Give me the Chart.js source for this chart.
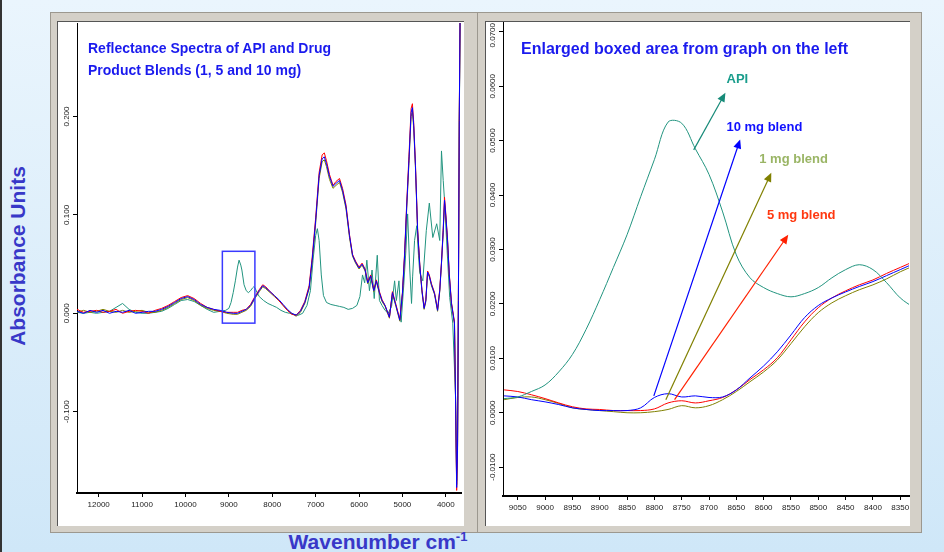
<!DOCTYPE html>
<html>
<head>
<meta charset="utf-8">
<script src="https://cdn.jsdelivr.net/npm/chart.js@4.4.0/dist/chart.umd.min.js"></script>
<style>
  body { margin: 0; width: 944px; height: 552px; overflow: hidden; position: relative;
         background: linear-gradient(#eaf5fd, #cfe7f8); font-family: 'Liberation Sans', Arial, sans-serif; }
  .frame { position: absolute; background: #d4d0c8; border: 1px solid #9c988f; box-sizing: border-box; }
  .white { position: absolute; background: #fff; border-top: 1px solid #555; border-left: 1px solid #555; box-sizing: border-box; }
  canvas { position: absolute; }
  .title { position: absolute; color: #1a1aee; font-weight: bold; font-size: 14px; line-height: 22px; white-space: nowrap; }
  .axis-title { position: absolute; color: #3838c8; font-weight: bold; font-size: 21px; white-space: nowrap; }
</style>
</head>
<body>
<div style="position:absolute;left:0;top:0;width:2px;height:552px;background:#333"></div>
<div class="frame" style="left:50px;top:12px;width:428px;height:521px"></div>
<div class="white" style="left:57px;top:21px;width:407px;height:505px"></div>
<div class="frame" style="left:477px;top:12px;width:445px;height:521px"></div>
<div class="white" style="left:485px;top:21px;width:425px;height:505px"></div>

<canvas id="leftChart" width="406" height="504" style="left:58px;top:22px"></canvas>
<canvas id="rightChart" width="424" height="504" style="left:486px;top:22px"></canvas>

<div class="title" style="left:88px;top:37px">Reflectance Spectra of API and Drug<br>Product Blends (1, 5 and 10 mg)</div>
<div class="title" style="left:521px;top:38px;font-size:16px">Enlarged boxed area from graph on the left</div>

<div class="axis-title" style="left:18px;top:256px;transform:translate(-50%,-50%) rotate(-90deg)">Absorbance Units</div>
<div class="axis-title" style="left:378px;top:541px;transform:translate(-50%,-50%)">Wavenumber cm<sup style="font-size:13px">-1</sup></div>

<script>
// Spectre complet (panneau gauche)
const apiWavenumbers = [12500,12350,12200,12050,11900,11750,11600,11450,11300,11150,
  11000,10850,10700,10550,10400,10250,10100,9950,9800,9650,
  9500,9350,9200,9075,9000,8950,8900,8850,8800,8765,
  8725,8700,8650,8600,8550,8500,8450,8425,8400,8350,
  8300,8200,8100,8000,7900,7800,7700,7600,7500,7400,
  7300,7200,7120,7060,7000,6960,6920,6870,6820,6750,
  6650,6550,6450,6350,6250,6150,6050,5980,5920,5870,
  5820,5760,5700,5650,5580,5530,5470,5400,5330,5250,
  5180,5140,5080,5030,4970,4920,4880,4830,4790,4765,
  4720,4670,4630,4600,4530,4450,4380,4300,4210,4140,
  4100,4060,4030,3970,3910,3840,3775,3750,3730,3710,
  3690,3670];
const apiLeft = [.001,.000,.001,.000,.001,.002,.006,.010,.004,.001,
  .000,.000,.001,.002,.005,.009,.013,.014,.012,.008,
  .004,.001,.002,.003,.005,.011,.021,.033,.047,.054,
  .049,.044,.029,.023,.021,.023,.026,.027,.026,.021,
  .017,.013,.010,.008,.006,.003,.001,.000,-.001,-.002,
  .000,.008,.023,.054,.079,.086,.074,.039,.018,.011,
  .009,.008,.007,.006,.004,.005,.008,.017,.039,.031,
  .054,.023,.044,.015,.059,.013,.008,.003,.000,.007,
  .033,.013,.033,-.009,.028,.064,.101,.044,.010,.037,
  .074,.089,.059,.041,.033,.084,.112,.077,.091,.074,
  .165,.135,.115,.064,.016,-.010,-.085,-.170,-.135,.013,
  .190,.300];

const blendWavenumbers = [12500,12350,12200,12050,11900,11750,11600,11450,11300,11150,11000,10850,10700,10550,
  10400,10250,10100,9950,9800,9650,9500,9350,9200,9050,
  8900,8800,8700,8600,8500,8400,8300,8220,8150,8050,
  7950,7850,7750,7650,7550,7450,7350,7250,7150,7080,
  7000,6920,6850,6800,6750,6680,6600,6530,6450,6380,
  6300,6220,6150,6080,6000,5930,5860,5800,5730,5660,
  5600,5530,5470,5400,5300,5230,5150,5060,5000,4950,
  4900,4850,4800,4770,4740,4700,4650,4600,4550,4500,
  4460,4420,4380,4330,4260,4190,4140,4100,4060,4030,
  4000,3960,3920,3870,3800,3775,3750,3730,3710,3690,
  3670];
const blend10Left = [.002,.000,.003,.001,.003,.000,.002,.001,.003,.000,.001,.002,.002,.004,
  .007,.011,.015,.017,.014,.009,.006,.004,.003,.001,
  .000,.000,.002,.004,.008,.016,.023,.028,.026,.022,
  .018,.014,.009,.004,.000,-.002,.002,.011,.026,.054,
  .094,.140,.157,.159,.152,.139,.129,.132,.135,.125,
  .108,.079,.059,.052,.046,.050,.044,.031,.038,.023,
  .033,.021,.013,.008,-.004,.021,.008,-.007,.020,.059,
  .110,.155,.204,.209,.191,.150,.084,.049,.023,.005,
  .013,.042,.038,.029,.020,.003,.023,.051,.084,.115,
  .099,.074,.039,.010,-.010,-.088,-.177,-.139,.013,.196,
  .307];
const blend5Left = [.004,.001,.002,.003,.001,.002,.004,.000,.002,.003,.002,.000,.003,.005,
  .008,.012,.016,.018,.015,.010,.006,.004,.002,.001,
  .001,.001,.003,.004,.009,.017,.024,.029,.027,.022,
  .018,.013,.008,.003,-.001,-.002,.003,.012,.028,.057,
  .097,.143,.161,.163,.155,.141,.130,.134,.137,.127,
  .110,.080,.060,.053,.047,.051,.045,.032,.039,.024,
  .034,.022,.014,.008,-.004,.022,.009,-.006,.021,.061,
  .113,.159,.208,.213,.194,.152,.086,.050,.024,.006,
  .014,.043,.039,.030,.021,.004,.024,.052,.086,.118,
  .101,.075,.040,.011,-.009,-.090,-.180,-.142,.014,.198,
  .307];
const blend1Left = [.001,.003,.001,.002,.004,.002,.001,.003,.001,.002,.003,.001,.001,.003,
  .006,.010,.014,.016,.013,.008,.005,.003,.002,.000,
  -.001,-.001,.001,.003,.007,.015,.022,.027,.025,.021,
  .017,.013,.008,.003,.000,-.003,.001,.010,.025,.052,
  .091,.137,.154,.156,.149,.136,.127,.130,.133,.123,
  .106,.077,.058,.051,.045,.049,.043,.030,.037,.022,
  .032,.020,.012,.007,-.005,.020,.007,-.008,.019,.057,
  .107,.152,.200,.205,.188,.148,.083,.048,.022,.004,
  .012,.041,.037,.028,.019,.002,.022,.050,.082,.112,
  .097,.072,.038,.009,-.011,-.086,-.174,-.136,.012,.194,
  .307];

// Zone agrandie (panneau droit)
const zoomWavenumbers = [9075,9050,9025,9000,8975,8950,8925,8900,8875,8850,8825,8800,8775,8750,8725,8700,
  8675,8650,8625,8600,8575,8550,8525,8500,8475,8450,8425,8400,8375,8350,8325];
const zoomApi = [.0026,.0029,.0039,.0051,.0075,.0107,.0153,.0208,.0267,.0327,.0397,.0465,.0534,.0532,.0485,.0438,
  .0369,.0290,.0248,.0230,.0219,.0213,.0219,.0230,.0248,.0263,.0272,.0263,.0239,.0211,.0193];
const zoom5mg = [.0042,.0039,.0033,.0026,.0018,.0011,.0007,.0006,.0004,.0004,.0004,.0007,.0018,.0022,.0018,.0022,
  .0028,.0042,.0061,.0079,.0101,.0134,.0167,.0193,.0211,.0224,.0235,.0244,.0256,.0267,.0278];
const zoom10mg = [.0031,.0029,.0024,.0020,.0015,.0009,.0006,.0004,.0004,.0004,.0009,.0028,.0035,.0029,.0031,.0028,
  .0029,.0042,.0064,.0086,.0112,.0143,.0175,.0197,.0211,.0222,.0232,.0241,.0252,.0263,.0274];
const zoom1mg = [.0024,.0028,.0029,.0024,.0017,.0009,.0006,.0004,.0002,.0000,.0000,.0002,.0006,.0013,.0009,.0013,
  .0024,.0039,.0057,.0075,.0097,.0127,.0158,.0184,.0202,.0215,.0226,.0235,.0246,.0259,.0270];

// Graduations
const leftXTicks = [12000, 11000, 10000, 9000, 8000, 7000, 6000, 5000, 4000];
const leftYTicks = [-0.1, 0, 0.1, 0.2];
const rightXTicks = [9050, 9000, 8950, 8900, 8850, 8800, 8750, 8700, 8650, 8600, 8550, 8500, 8450, 8400, 8350];
const rightYTicks = [-0.01, 0, 0.01, 0.02, 0.03, 0.04, 0.05, 0.06, 0.07];

// Annotations (unités des données)
const boxArea = { x1: 9150, x2: 8400, y1: -0.010, y2: 0.063 };
const arrows = [
  { text: 'API', color: '#1a9d8c', line: '#168a78', from: [8728, 0.0483], to: [8670, 0.0588], at: [8668, 0.0612] },
  { text: '10 mg blend', color: '#1010ff', line: '#0000ff', from: [8801, 0.0031], to: [8643, 0.0502], at: [8668, 0.0524] },
  { text: '1 mg blend', color: '#9ab565', line: '#808000', from: [8779, 0.0024], to: [8586, 0.0441], at: [8608, 0.0465] },
  { text: '5 mg blend', color: '#ff3810', line: '#ff2000', from: [8763, 0.0024], to: [8555, 0.0327], at: [8594, 0.0362] }
];

const COL_API = '#22947f', COL_1 = '#808000', COL_5 = '#ff0000', COL_10 = '#0000ff';

function pts(xs, ys) { return xs.map((x, i) => ({ x: x, y: ys[i] })); }

function line(label, data, color, tension) {
  return { label: label, data: data, borderColor: color, borderWidth: 1, pointRadius: 0, tension: tension, fill: false };
}

// étiquettes verticales de l'axe Y
const yLabels = {
  id: 'yLabels',
  afterDraw(chart, args, opts) {
    const ctx = chart.ctx, ys = chart.scales.y;
    ctx.save();
    ctx.fillStyle = '#222';
    ctx.font = '8px "Liberation Sans", Arial, sans-serif';
    ctx.textAlign = 'center';
    ctx.textBaseline = 'middle';
    ys.ticks.forEach(t => {
      const txt = t.value.toFixed(opts.digits);
      const half = ctx.measureText(txt).width / 2;
      // garder le libellé du haut dans le cadre
      const y = Math.max(ys.getPixelForValue(t.value), half + 1);
      ctx.save();
      ctx.translate(ys.right - opts.offset, y);
      ctx.rotate(-Math.PI / 2);
      ctx.fillText(txt, 0, 0);
      ctx.restore();
    });
    ctx.restore();
  }
};

const boxPlugin = {
  id: 'boxPlugin',
  afterDatasetsDraw(chart) {
    const { ctx, scales: { x, y } } = chart;
    const l = x.getPixelForValue(boxArea.x1), r = x.getPixelForValue(boxArea.x2);
    const t = y.getPixelForValue(boxArea.y2), b = y.getPixelForValue(boxArea.y1);
    ctx.save();
    ctx.strokeStyle = '#3a3aff';
    ctx.lineWidth = 1.5;
    ctx.strokeRect(l, t, r - l, b - t);
    ctx.restore();
  }
};

const arrowPlugin = {
  id: 'arrowPlugin',
  afterDatasetsDraw(chart) {
    const { ctx, scales: { x, y } } = chart;
    ctx.save();
    arrows.forEach(a => {
      const x0 = x.getPixelForValue(a.from[0]), y0 = y.getPixelForValue(a.from[1]);
      const x1 = x.getPixelForValue(a.to[0]), y1 = y.getPixelForValue(a.to[1]);
      const ang = Math.atan2(y1 - y0, x1 - x0);
      ctx.strokeStyle = a.line;
      ctx.fillStyle = a.line;
      ctx.lineWidth = 1.2;
      ctx.beginPath();
      ctx.moveTo(x0, y0);
      ctx.lineTo(x1 - 6 * Math.cos(ang), y1 - 6 * Math.sin(ang));
      ctx.stroke();
      ctx.beginPath();
      ctx.moveTo(x1, y1);
      ctx.lineTo(x1 - 9 * Math.cos(ang) + 4 * Math.sin(ang), y1 - 9 * Math.sin(ang) - 4 * Math.cos(ang));
      ctx.lineTo(x1 - 9 * Math.cos(ang) - 4 * Math.sin(ang), y1 - 9 * Math.sin(ang) + 4 * Math.cos(ang));
      ctx.closePath();
      ctx.fill();
      ctx.fillStyle = a.color;
      ctx.font = 'bold 13px "Liberation Sans", Arial, sans-serif';
      ctx.textAlign = 'left';
      ctx.textBaseline = 'middle';
      ctx.fillText(a.text, x.getPixelForValue(a.at[0]), y.getPixelForValue(a.at[1]));
    });
    ctx.restore();
  }
};

function scalesFor(xMin, xMax, xTicks, yMin, yMax, yTicks, yWidth, xHeight) {
  return {
    x: {
      type: 'linear', reverse: true, min: xMin, max: xMax,
      border: { color: '#000', width: 2 },
      grid: { drawOnChartArea: false, drawTicks: true, tickLength: 4, color: '#000' },
      ticks: { maxRotation: 0, autoSkip: false, padding: 3,
               color: '#222', font: { size: 8, family: '"Liberation Sans", Arial, sans-serif' },
               callback: v => String(v) },
      afterBuildTicks: s => { s.ticks = xTicks.map(v => ({ value: v })); },
      afterFit: s => { s.height = xHeight; s.paddingLeft = 0; s.paddingRight = 0; }
    },
    y: {
      type: 'linear', min: yMin, max: yMax,
      border: { color: '#000', width: 1 },
      grid: { drawOnChartArea: false, drawTicks: true, tickLength: 4, color: '#000' },
      ticks: { display: false },
      afterBuildTicks: s => { s.ticks = yTicks.map(v => ({ value: v })); },
      afterFit: s => { s.width = yWidth; s.paddingTop = 0; s.paddingBottom = 0; }
    }
  };
}

const common = {
  responsive: false, animation: false, devicePixelRatio: 1,
  plugins: { legend: { display: false }, tooltip: { enabled: false } }
};

new Chart(document.getElementById('leftChart'), {
  type: 'line',
  data: {
    datasets: [
      line('10 mg blend', pts(blendWavenumbers, blend10Left), COL_10, 0),
      line('5 mg blend', pts(blendWavenumbers, blend5Left), COL_5, 0),
      line('1 mg blend', pts(blendWavenumbers, blend1Left), COL_1, 0),
      line('API', pts(apiWavenumbers, apiLeft), COL_API, 0)
    ]
  },
  options: Object.assign({}, common, {
    layout: { padding: { top: 1, right: 3, left: 0, bottom: 0 } },
    scales: scalesFor(3650, 12500, leftXTicks, -0.1826, 0.295, leftYTicks, 19, 33),
    plugins: Object.assign({}, common.plugins, { yLabels: { offset: 10, digits: 3 } })
  }),
  plugins: [yLabels, boxPlugin]
});

new Chart(document.getElementById('rightChart'), {
  type: 'line',
  data: {
    datasets: [
      line('API', pts(zoomWavenumbers, zoomApi), COL_API, 0.35),
      line('10 mg blend', pts(zoomWavenumbers, zoom10mg), COL_10, 0.35),
      line('5 mg blend', pts(zoomWavenumbers, zoom5mg), COL_5, 0.35),
      line('1 mg blend', pts(zoomWavenumbers, zoom1mg), COL_1, 0.35)
    ]
  },
  options: Object.assign({}, common, {
    layout: { padding: { top: 0, right: 1, left: 0, bottom: 0 } },
    scales: scalesFor(8334, 9077, rightXTicks, -0.0153, 0.0718, rightYTicks, 17, 30),
    plugins: Object.assign({}, common.plugins, { yLabels: { offset: 10, digits: 4 } })
  }),
  plugins: [yLabels, arrowPlugin]
});
</script>
</body>
</html>
